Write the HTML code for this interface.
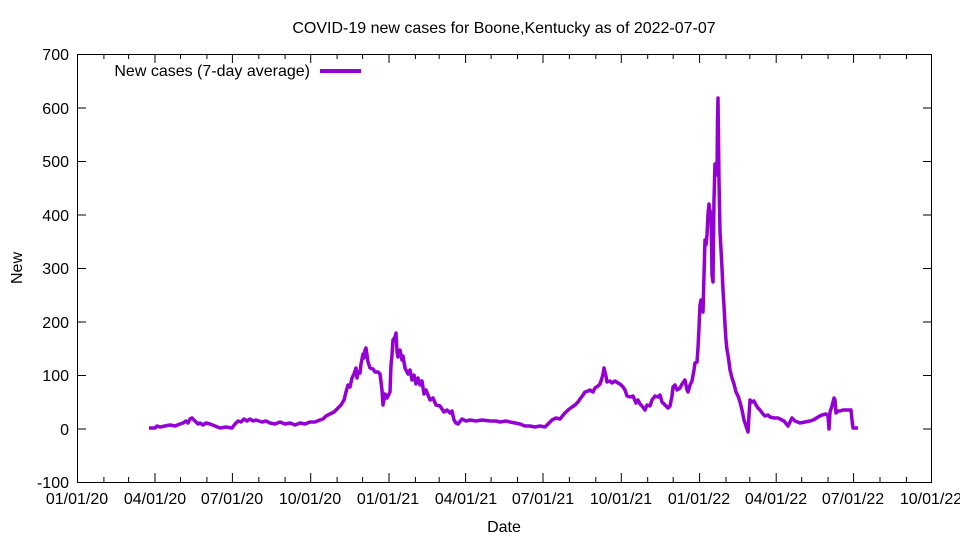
<!DOCTYPE html>
<html><head><meta charset="utf-8"><style>body{margin:0;background:#fff}</style></head><body>
<svg width="960" height="540" xmlns="http://www.w3.org/2000/svg" font-family="Liberation Sans, sans-serif" font-size="16">
<rect width="960" height="540" fill="#fff"/>
<text x="504" y="33" text-anchor="middle">COVID-19 new cases for Boone,Kentucky as of 2022-07-07</text>
<g stroke="#000" stroke-width="1" fill="none">
<rect x="77.5" y="54.5" width="854" height="428"/>
<path d="M77 54.5h9M932 54.5h-9M77 108h9M932 108h-9M77 161.5h9M932 161.5h-9M77 215h9M932 215h-9M77 268.5h9M932 268.5h-9M77 322h9M932 322h-9M77 375.5h9M932 375.5h-9M77 429h9M932 429h-9"/>
<path d="M155 482v-9M155 54v9M232.4 482v-9M232.4 54v9M310.7 482v-9M310.7 54v9M389 482v-9M389 54v9M465.6 482v-9M465.6 54v9M543 482v-9M543 54v9M621.3 482v-9M621.3 54v9M699.6 482v-9M699.6 54v9M776.2 482v-9M776.2 54v9M853.6 482v-9M853.6 54v9"/>
<path d="M103.9 482v-5M103.9 54v5M128.6 482v-5M128.6 54v5M180.5 482v-5M180.5 54v5M206.9 482v-5M206.9 54v5M258.8 482v-5M258.8 54v5M285.1 482v-5M285.1 54v5M337.1 482v-5M337.1 54v5M362.6 482v-5M362.6 54v5M415.4 482v-5M415.4 54v5M439.2 482v-5M439.2 54v5M491.1 482v-5M491.1 54v5M517.5 482v-5M517.5 54v5M569.4 482v-5M569.4 54v5M595.8 482v-5M595.8 54v5M647.7 482v-5M647.7 54v5M673.2 482v-5M673.2 54v5M726 482v-5M726 54v5M749.8 482v-5M749.8 54v5M801.7 482v-5M801.7 54v5M828.1 482v-5M828.1 54v5M880 482v-5M880 54v5M906.4 482v-5M906.4 54v5"/>
</g>
<g text-anchor="end">
<text x="69" y="60">700</text><text x="69" y="114">600</text><text x="69" y="167">500</text><text x="69" y="221">400</text><text x="69" y="274">300</text><text x="69" y="328">200</text><text x="69" y="381">100</text><text x="69" y="435">0</text><text x="69" y="488">-100</text>
</g>
<g text-anchor="middle">
<text x="77" y="504">01/01/20</text><text x="155" y="504">04/01/20</text><text x="232" y="504">07/01/20</text><text x="310" y="504">10/01/20</text><text x="388" y="504">01/01/21</text><text x="466" y="504">04/01/21</text><text x="543" y="504">07/01/21</text><text x="621" y="504">10/01/21</text><text x="699" y="504">01/01/22</text><text x="776" y="504">04/01/22</text><text x="853" y="504">07/01/22</text><text x="931" y="504">10/01/22</text>
<text x="504" y="532">Date</text>
<text x="0" y="0" transform="translate(22,268) rotate(-90)">New</text>
</g>
<text x="310" y="76" text-anchor="end">New cases (7-day average)</text>
<line x1="320" y1="71" x2="361" y2="71" stroke="#9400d3" stroke-width="4"/>
<polyline fill="none" stroke="#9400d3" stroke-width="3.5" stroke-linejoin="round" points="149,428 155,428 157,426 160,427 165,426 170,425 175,426 180,424 183,423 186,421 188,423 190,419 192,418 194,420 196,422 198,424 200,423 203,425 206,423 210,424 215,426 220,428 226,427 232,428 235,424 238,421 241,422 244,419 247,421 250,419 253,421 256,420 262,422 266,421 270,423 275,424 280,422 285,424 290,423 295,425 300,423 305,424 310,422 315,422 320,420 323,419 326,416 330,414 334,412 338,408 341,405 344,400 346,392 348,385 350,387 352,378 354,374 356,368 357,378 358,372 360,373 361,364 363,354 364,358 365,350 366,348 368,362 370,368 373,369 375,372 378,372 380,374 382,390 383,405 385,394 387,398 390,392 391,365 392,355 393,340 395,337 396,333 397,352 398,357 400,350 402,360 403,356 405,368 408,374 410,370 412,380 414,375 416,384 418,378 420,385 422,381 424,394 426,390 430,400 433,398 436,405 440,406 444,412 447,410 450,413 452,411 454,420 456,423 458,424 462,419 466,421 470,420 476,421 482,420 490,421 496,421 500,422 506,421 510,422 515,423 520,424 525,426 530,426 535,427 540,426 545,427 548,424 552,420 556,418 560,419 564,414 568,410 572,407 575,405 578,402 580,399 583,395 585,392 588,391 590,390 593,392 595,388 598,386 600,384 602,378 603,374 604,368 606,376 607,382 610,381 612,383 615,381 618,383 620,384 623,387 625,390 627,396 630,397 633,396 636,403 638,400 640,404 642,406 645,410 647,405 650,406 652,400 655,396 658,397 660,395 662,402 665,405 668,408 670,406 672,396 673,387 675,385 677,390 680,388 682,384 685,380 687,390 688,392 690,385 692,381 694,370 695,363 697,362 698,348 699,328 700,305 701,300 702,310 703,312 704,275 705,240 706,245 707,235 708,214 709,204 710,212 711,212 712,275 713,282 714,200 715,164 716,175 717,175 717.5,120 718,98 719,180 720,232 721,250 722,268 723,290 724,306 725,325 726,340 727,350 728,355 729,362 730,370 732,378 734,384 736,392 738,396 740,402 742,410 744,420 746,426 748,432 749,415 750,400 752,402 754,401 756,405 758,408 760,410 763,414 765,416 768,415 770,417 774,418 778,418 780,419 784,421 788,426 790,422 792,418 795,421 800,423 805,422 810,421 813,420 815,419 818,417 822,415 826,414 828,416 829,429 830,412 832,406 834,398 835,400 836,413 838,411 840,411 843,410 845,410 848,410 851,410 852,420 853,428 858,428"/>
</svg>
</body></html>
